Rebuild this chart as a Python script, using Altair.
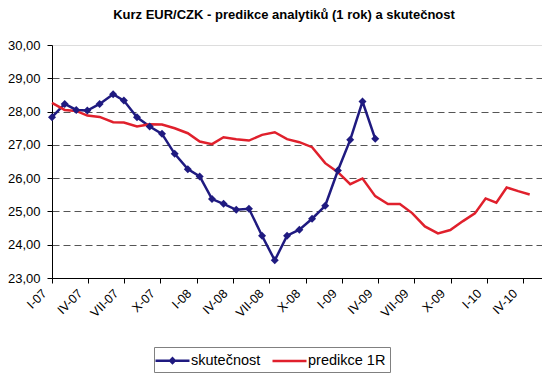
import altair as alt
import pandas as pd

# x positions (dates), shared by both series
dates = ["2007-01-01", "2007-02-02", "2007-03-03", "2007-03-31", "2007-05-01", "2007-06-04",
         "2007-07-01", "2007-08-03", "2007-09-04", "2007-10-05", "2007-11-06", "2007-12-09",
         "2008-01-08", "2008-02-08", "2008-03-08", "2008-04-09", "2008-05-11", "2008-06-13",
         "2008-07-15", "2008-08-15", "2008-09-15", "2008-10-17", "2008-11-19", "2008-12-21",
         "2009-01-21", "2009-02-21", "2009-03-25", "2009-04-26", "2009-05-26", "2009-06-26",
         "2009-07-28", "2009-08-30", "2009-09-30", "2009-11-01", "2009-12-01", "2009-12-28",
         "2010-01-24", "2010-02-19", "2010-03-20", "2010-04-18"]

skutecnost = [27.83, 28.23, 28.05, 28.03, 28.23, 28.52, 28.33, 27.83, 27.55, 27.33,
              26.73, 26.27, 26.05, 25.37, 25.23, 25.05, 25.08, 24.27, 23.53, 24.27,
              24.45, 24.78, 25.17, 26.23, 27.15, 28.30, 27.18]

predikce = [28.26, 28.05, 28.02, 27.88, 27.84, 27.68, 27.67, 27.55, 27.62, 27.61,
            27.50, 27.35, 27.10, 27.02, 27.23, 27.17, 27.13, 27.30, 27.38, 27.17,
            27.08, 26.93, 26.45, 26.18, 25.82, 25.99, 25.46, 25.22, 25.22, 24.95,
            24.55, 24.34, 24.44, 24.71, 24.94, 25.39, 25.26, 25.72, 25.61, 25.51]

series_names = ["skutečnost", "predikce 1R"]
series_colors = ["#1f1a80", "#e0202c"]
y_ticks = [23, 24, 25, 26, 27, 28, 29, 30]
x_tick_months = [(2007, 1), (2007, 4), (2007, 7), (2007, 10), (2008, 1), (2008, 4), (2008, 7),
                 (2008, 10), (2009, 1), (2009, 4), (2009, 7), (2009, 10), (2010, 1), (2010, 4)]
roman = ["I", "II", "III", "IV", "V", "VI", "VII", "VIII", "IX", "X", "XI", "XII"]
title_text = "Kurz EUR/CZK - predikce analytiků (1 rok) a skutečnost"

rows = []
for d, v in zip(dates, skutecnost):
    rows.append({"date": d, "value": v, "series": series_names[0]})
for d, v in zip(dates, predikce):
    rows.append({"date": d, "value": v, "series": series_names[1]})
df = pd.DataFrame(rows)
df_blue = df[df.series == series_names[0]]

FONT = "Liberation Sans"
roman_js = "[" + ",".join("'%s'" % r for r in roman) + "]"

x_enc = alt.X(
    "date:T",
    scale=alt.Scale(type="utc",
                    domain=[alt.DateTime(year=2007, month=1, date=1, utc=True),
                            alt.DateTime(year=2010, month=5, date=19, utc=True)]),
    axis=alt.Axis(
        title=None,
        values=[alt.DateTime(year=y, month=m, date=1, utc=True) for y, m in x_tick_months],
        labelExpr=roman_js + "[utcmonth(datum.value)] + '-' + utcFormat(datum.value, '%y')",
        labelAngle=315, labelAlign="right", labelBaseline="middle",
        labelOffset=-8, labelPadding=8, labelFont=FONT, labelFontSize=12.5,
        labelColor="#000", tickSize=5, tickColor="#000", domainColor="#000",
        grid=False, labelOverlap=False, labelFlush=False,
    ),
)
y_enc = alt.Y(
    "value:Q",
    scale=alt.Scale(domain=[23, 30], nice=False, zero=False),
    axis=alt.Axis(
        title=None, values=y_ticks,
        labelExpr="replace(format(datum.value, '.2f'), '.', ',')",
        labelFont=FONT, labelFontSize=13, labelColor="#000", labelPadding=7,
        tickSize=5, tickColor="#000", domainColor="#000",
        grid=True, gridDash=[7, 4], gridWidth=1,
        gridColor={"condition": {"test": "datum.value == 23 || datum.value == 30",
                                 "value": "transparent"}, "value": "#555555"},
    ),
)

color_enc = alt.Color(
    "series:N",
    scale=alt.Scale(domain=series_names, range=series_colors),
    sort=series_names,
    legend=alt.Legend(
        title=None, orient="none", legendX=102, legendY=302, direction="horizontal",
        padding=4, strokeColor="#808080", fillColor="white",
        labelFont=FONT, labelFontSize=14.5, labelColor="#000", labelOffset=9,
        columnPadding=6, symbolSize=256, symbolOffset=5, symbolStrokeWidth=2.5,
        symbolType={"expr": "datum.value === '" + series_names[0] +
                    "' ? 'M-2.125,0H2.125M-0.28,0L0,-0.28L0.28,0L0,0.28Z' : 'M-2.125,0H2.125'"},
    ),
)

lines = alt.Chart(df).mark_line(strokeWidth=2.5).encode(
    x=x_enc, y=y_enc, color=color_enc, order=alt.Order("date:T"),
    detail="series:N",
)
points = alt.Chart(df_blue).mark_point(
    shape="diamond", filled=True, size=64, opacity=1
).encode(x=x_enc, y=y_enc, color=alt.value(series_colors[0]))

chart = alt.layer(lines, points).properties(
    width=490, height=233,
    title=alt.TitleParams(title_text, font=FONT, fontSize=13, fontWeight="bold",
                          color="#000", anchor="middle", dx=-13, offset=17),
    autosize=alt.AutoSizeParams(type="none"),
    padding={"left": 44, "top": 37, "right": 0, "bottom": 95},
).configure_view(stroke="#808080", strokeWidth=1).configure(background="white")

chart.save("out.html", embed_options={"renderer": "svg", "actions": False})
